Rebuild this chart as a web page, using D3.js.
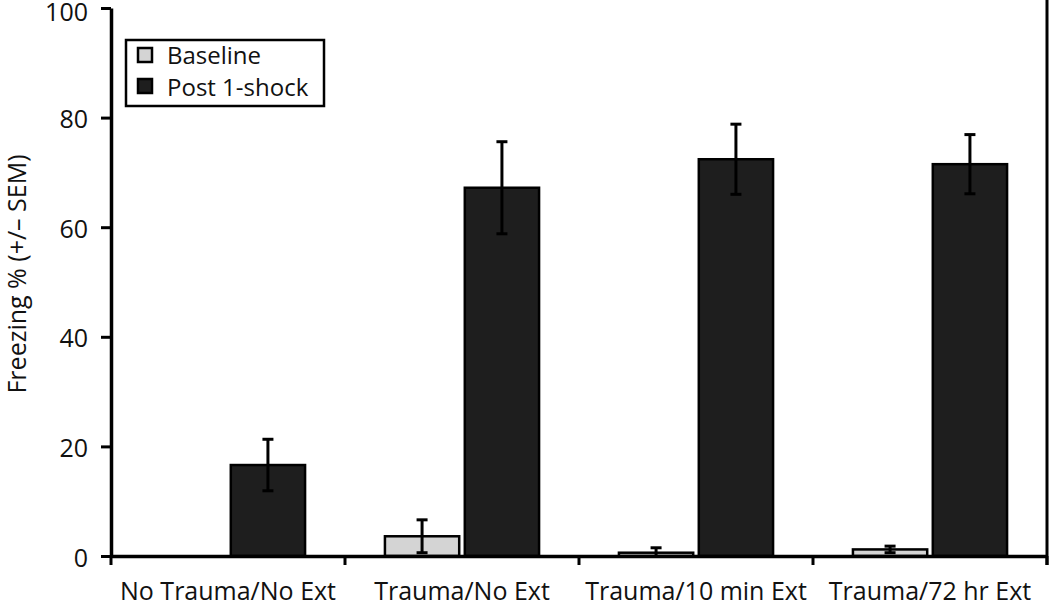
<!DOCTYPE html>
<html><head><meta charset="utf-8">
<script src="https://cdn.jsdelivr.net/npm/d3@7/dist/d3.min.js"></script>
<style>body{margin:0;background:#fff}svg{display:block}text{font-family:"Open Sans",sans-serif;fill:#111}</style>
</head><body><svg id="c" width="1050" height="608"></svg>
<script>
const categories = ["No Trauma/No Ext","Trauma/No Ext","Trauma/10 min Ext","Trauma/72 hr Ext"];
const seriesNames = ["Baseline","Post 1-shock"];
const baseline = [0, 3.6, 0.6, 1.2];
const baselineSEM = [0, 3.0, 0.9, 0.6];
const post = [16.6, 67.2, 72.4, 71.5];
const postSEM = [4.7, 8.4, 6.4, 5.4];
const yTicks = [0,20,40,60,80,100];
const colors = ["#d4d4d4","#1e1e1e"];

const svg = d3.select("#c");
const x0 = d3.scaleBand().domain(categories).range([111,1047]).paddingInner(0).paddingOuter(0);
const x1 = d3.scaleBand().domain(seriesNames).range([0,x0.bandwidth()]).paddingInner(0.07).paddingOuter(0.5);
const y = d3.scaleLinear().domain([0,100]).range([556,8]);

const data = [];
categories.forEach((c,i)=>{
  data.push({c, s:seriesNames[0], v:baseline[i], e:baselineSEM[i], col:colors[0]});
  data.push({c, s:seriesNames[1], v:post[i], e:postSEM[i], col:colors[1]});
});

// bars
svg.append("g").selectAll("rect").data(data.filter(d=>d.v>0)).join("rect")
  .attr("x",d=>x0(d.c)+x1(d.s)).attr("width",x1.bandwidth())
  .attr("y",d=>y(d.v)).attr("height",d=>y(0)-y(d.v))
  .attr("fill",d=>d.col).attr("stroke","#000").attr("stroke-width",2.5);

// error bars
const eg = svg.append("g").attr("stroke","#000").attr("stroke-width",3);
data.filter(d=>d.e>0).forEach(d=>{
  const cx = x0(d.c)+x1(d.s)+x1.bandwidth()/2;
  const lo = Math.max(0,d.v-d.e), hi = d.v+d.e;
  eg.append("line").attr("x1",cx).attr("x2",cx).attr("y1",y(lo)).attr("y2",y(hi));
  eg.append("line").attr("x1",cx-5.5).attr("x2",cx+5.5).attr("y1",y(hi)).attr("y2",y(hi));
  if (d.v-d.e>0) eg.append("line").attr("x1",cx-5.5).attr("x2",cx+5.5).attr("y1",y(lo)).attr("y2",y(lo));
});

// y axis
const ya = svg.append("g").attr("transform","translate(111,0)")
  .call(d3.axisLeft(y).tickValues(yTicks).tickSize(10).tickSizeOuter(0).tickPadding(13));
ya.select(".domain").attr("stroke","#000").attr("stroke-width",3.5);
ya.selectAll(".tick line").attr("stroke","#000").attr("stroke-width",3);
ya.selectAll(".tick text").attr("font-size",25).attr("font-family","Open Sans").attr("fill","#111")
  .attr("dy",d=>d===100 ? "0.5em" : "0.4em");

// x axis
const xa = svg.append("g").attr("transform","translate(0,556)")
  .call(d3.axisBottom(x0).tickSize(0).tickPadding(26));
xa.select(".domain").attr("stroke","#000").attr("stroke-width",3.5);
xa.selectAll(".tick text").attr("font-size",25).attr("font-family","Open Sans").attr("fill","#111");
// category boundary ticks
const bounds = categories.map(c=>x0(c)).concat([x0.range()[1]]);
svg.append("g").selectAll("line").data(bounds).join("line")
  .attr("x1",d=>d).attr("x2",d=>d).attr("y1",556).attr("y2",565)
  .attr("stroke","#000").attr("stroke-width",3);
// right edge frame line
svg.append("line").attr("x1",1047).attr("x2",1047).attr("y1",0).attr("y2",565)
  .attr("stroke","#000").attr("stroke-width",3);

// y label
svg.append("text").attr("transform","translate(26,274) rotate(-90)")
  .attr("text-anchor","middle").attr("font-size",25).text("Freezing % (+/– SEM)");

// legend
const lg = svg.append("g");
lg.append("rect").attr("x",126).attr("y",40).attr("width",198).attr("height",66)
  .attr("fill","#fff").attr("stroke","#000").attr("stroke-width",2.5);
seriesNames.forEach((s,i)=>{
  lg.append("rect").attr("x",138).attr("y",48+i*31).attr("width",14).attr("height",14)
    .attr("fill",colors[i]).attr("stroke","#000").attr("stroke-width",2.5);
  lg.append("text").attr("x",167).attr("y",64+i*32).attr("font-size",24).text(s);
});
</script></body></html>
